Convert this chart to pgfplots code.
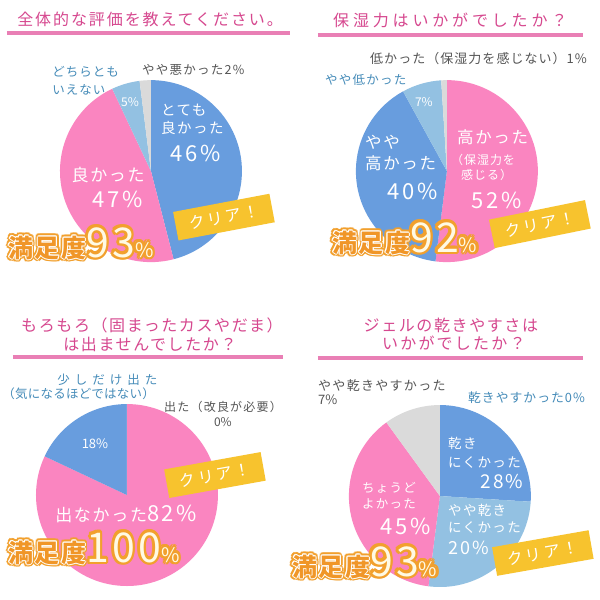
\documentclass[border=0pt]{standalone}
\usepackage{fontspec}
\setmainfont{Noto Sans CJK JP}
\usepackage{pgfplots}
\pgfplotsset{compat=1.18}
\usepackage{pgfplotstable}

\definecolor{cblue}{RGB}{104,157,222}
\definecolor{cpink}{RGB}{250,133,192}
\definecolor{clight}{RGB}{147,193,226}
\definecolor{cgrey}{RGB}{218,218,218}
\definecolor{ctitle}{RGB}{214,72,143}
\definecolor{cline}{RGB}{228,96,163}
\definecolor{cteal}{RGB}{70,140,185}
\definecolor{cdark}{RGB}{85,85,85}
\definecolor{cyellow}{RGB}{247,195,46}
\definecolor{corange}{RGB}{242,160,45}
\definecolor{cdeep}{RGB}{240,150,40}
\definecolor{ccream}{RGB}{255,250,228}

% 1 px of the reference = 0.025cm
\def\pxu{0.025cm}
\newcommand\fs[1]{\fontsize{\fpeval{#1*0.7113}pt}{\fpeval{#1*0.85}pt}\selectfont}
\newcommand\ls[1]{\addfontfeature{LetterSpace=#1}}

% shares of each pie, clockwise from the top
\pgfplotstableread{
share color
46 cblue
47 cpink
5  clight
2  cgrey
}\pieA
\pgfplotstableread{
share color
52 cpink
40 cblue
7  clight
1  cgrey
}\pieB
\pgfplotstableread{
share color
82 cpink
18 cblue
0  cgrey
}\pieC
\pgfplotstableread{
share color
26 cblue
26 clight
38 cpink
10 cgrey
}\pieD

\newcommand\drawpie[4]{%
  \pgfplotstablegetrowsof{#1}%
  \pgfmathtruncatemacro\lastrow{\pgfplotsretval-1}%
  \xdef\curang{90}%
  \foreach \i in {0,...,\lastrow}{%
    \pgfplotstablegetelem{\i}{share}\of{#1}\let\val\pgfplotsretval
    \pgfplotstablegetelem{\i}{color}\of{#1}\let\col\pgfplotsretval
    \pgfmathsetmacro\nextang{\curang-3.6*\val}%
    \fill[fill=\col] (axis cs:#2,#3) -- ++(\curang:#4*\pxu)
      arc[start angle=\curang, end angle=\nextang, radius=#4*\pxu] -- cycle;
    \xdef\curang{\nextang}%
  }%
}

\newcommand\sattext[3]{{\color{#1}\fs{25}\bfseries\ls{6}満足度}{\color{#2}\fs{41}\ls{8}#3}{\color{#2}\fs{20}\%}}
\newcommand\satis[3]{\pgfplotsextra{%
  \foreach \ang in {0,30,...,330}{%
    \node[anchor=base west, inner sep=0pt] at ([shift={(\ang:2.6*\pxu)}]axis cs:#1,#2) {\sattext{corange}{corange}{#3}};}%
  \foreach \ang in {0,45,...,315}{%
    \node[anchor=base west, inner sep=0pt] at ([shift={(\ang:1.0*\pxu)}]axis cs:#1,#2) {\sattext{white}{corange}{#3}};}%
  \node[anchor=base west, inner sep=0pt] at (axis cs:#1,#2) {\sattext{cdeep}{ccream}{#3}};%
}}

\begin{document}
\begin{tikzpicture}[
  lbl/.style={anchor=west, inner sep=0pt},
  mid/.style={inner sep=0pt},
  box/.style={fill=cyellow, text=white, minimum width=98*\pxu, minimum height=29*\pxu, inner sep=0pt},
]
\fill[white] (0,0) rectangle (15,15);
\begin{axis}[
  at={(0,0)}, anchor=south west,
  x=\pxu, y=\pxu,
  xmin=0, xmax=600, ymin=0, ymax=600,
  y dir=reverse,
  hide axis, clip=false,
]
% pies
\pgfplotsextra{\drawpie{\pieA}{151}{171}{91}}
\pgfplotsextra{\drawpie{\pieB}{447}{171}{91}}
\pgfplotsextra{\drawpie{\pieC}{127}{495}{91}}
\pgfplotsextra{\drawpie{\pieD}{440}{496}{91}}

% title underlines
\addplot[cline, line width=0.1cm, opacity=0.8] coordinates {(7,33) (290,33)};
\addplot[cline, line width=0.1cm, opacity=0.8] coordinates {(318,35) (583,35)};
\addplot[cline, line width=0.1cm, opacity=0.8] coordinates {(13,357) (283,357)};
\addplot[cline, line width=0.1cm, opacity=0.8] coordinates {(318,358) (583,358)};

% titles
\node[lbl, text=ctitle] at (axis cs:17,19) {\fs{16}\ls{12}全体的な評価を教えてください。};
\node[lbl, text=ctitle] at (axis cs:333,20) {\fs{16}\ls{24}保湿力はいかがでしたか？};
\node[mid, text=ctitle] at (axis cs:152,325) {\fs{16}\ls{10}もろもろ（固まったカスやだま）};
\node[mid, text=ctitle] at (axis cs:150,344) {\fs{16}\ls{10}は出ませんでしたか？};
\node[mid, text=ctitle] at (axis cs:451,325) {\fs{16}\ls{10}ジェルの乾きやすさは};
\node[mid, text=ctitle] at (axis cs:454,343) {\fs{16}\ls{14}いかがでしたか？};

% pie 1
\node[lbl, text=cteal] at (axis cs:52,72) {\fs{12.5}\ls{8}どちらとも};
\node[lbl, text=cteal] at (axis cs:52,90) {\fs{12.5}\ls{8}いえない};
\node[lbl, text=cdark] at (axis cs:142,70) {\fs{12.5}\ls{10}やや悪かった2\%};
\node[mid, text=white] at (axis cs:130,102) {\fs{12}5\%};
\node[lbl, text=white] at (axis cs:161,110) {\fs{14.5}\ls{10}とても};
\node[lbl, text=white] at (axis cs:161,128) {\fs{14.5}\ls{10}良かった};
\node[mid, text=white] at (axis cs:196,153) {\fs{22}\ls{12}46\%};
\node[anchor=east, inner sep=0pt, text=white] at (axis cs:145,175) {\fs{17}\ls{10}良かった};
\node[mid, text=white] at (axis cs:118,199) {\fs{22}\ls{12}47\%};
\node[box, rotate=10.7] at (axis cs:224,217) {\fs{16}\ls{15}クリア！};
\satis{8}{257}{93}

% pie 2
\node[lbl, text=cdark] at (axis cs:370,58) {\fs{13}\ls{8}低かった（保湿力を感じない）1\%};
\node[lbl, text=cteal] at (axis cs:325,80) {\fs{12.5}\ls{10}やや低かった};
\node[mid, text=white] at (axis cs:424,102) {\fs{12}7\%};
\node[lbl, text=white] at (axis cs:365,142) {\fs{16.5}\ls{10}やや};
\node[lbl, text=white] at (axis cs:365,163) {\fs{16.5}\ls{10}高かった};
\node[mid, text=white] at (axis cs:413,191) {\fs{22}\ls{12}40\%};
\node[lbl, text=white] at (axis cs:457,137) {\fs{16.5}\ls{10}高かった};
\node[lbl, text=white] at (axis cs:451,160) {\fs{12}\ls{8}（保湿力を};
\node[lbl, text=white] at (axis cs:461,175) {\fs{12}\ls{8}感じる）};
\node[mid, text=white] at (axis cs:497,200) {\fs{22}\ls{12}52\%};
\node[box, rotate=11.5] at (axis cs:540,224) {\fs{16}\ls{15}クリア！};
\satis{332}{252}{92}

% pie 3
\node[lbl, text=cteal] at (axis cs:57,380) {\fs{12.5}\ls{40}少しだけ出た};
\node[lbl, text=cteal] at (axis cs:2,394) {\fs{12.5}\ls{2}（気になるほどではない）};
\node[lbl, text=cdark] at (axis cs:164,407) {\fs{12}\ls{10}出た（改良が必要）};
\node[mid, text=cdark] at (axis cs:223,422) {\fs{12}0\%};
\node[mid, text=white] at (axis cs:95,444) {\fs{13}18\%};
\node[anchor=base west, inner sep=0pt, text=white] at (axis cs:55,521) {{\fs{17}\ls{10}出なかった}{\fs{22}\ls{12}82\%}};
\node[box, rotate=10.2] at (axis cs:215,475) {\fs{16}\ls{15}クリア！};
\satis{8}{562}{100}

% pie 4
\node[lbl, text=cdark] at (axis cs:318,385) {\fs{13}\ls{10}やや乾きやすかった};
\node[lbl, text=cdark] at (axis cs:318,400) {\fs{13}7\%};
\node[lbl, text=cteal] at (axis cs:468,398) {\fs{12.8}\ls{8}乾きやすかった0\%};
\node[lbl, text=white] at (axis cs:448,443) {\fs{13.5}\ls{10}乾き};
\node[lbl, text=white] at (axis cs:448,462) {\fs{13.5}\ls{10}にくかった};
\node[mid, text=white] at (axis cs:502,482) {\fs{19}\ls{12}28\%};
\node[lbl, text=white] at (axis cs:362,488) {\fs{12.5}\ls{10}ちょうど};
\node[lbl, text=white] at (axis cs:362,504) {\fs{12.5}\ls{10}よかった};
\node[mid, text=white] at (axis cs:406,526) {\fs{22}\ls{12}45\%};
\node[lbl, text=white] at (axis cs:448,510) {\fs{13.5}\ls{10}やや乾き};
\node[lbl, text=white] at (axis cs:448,527) {\fs{13.5}\ls{10}にくかった};
\node[lbl, text=white] at (axis cs:448,548) {\fs{18}\ls{12}20\%};
\node[box, rotate=10] at (axis cs:543,553) {\fs{16}\ls{15}クリア！};
\satis{292}{576}{93}
\end{axis}
\pgfresetboundingbox
\path (0,0) rectangle (15,15);
\end{tikzpicture}
\end{document}
